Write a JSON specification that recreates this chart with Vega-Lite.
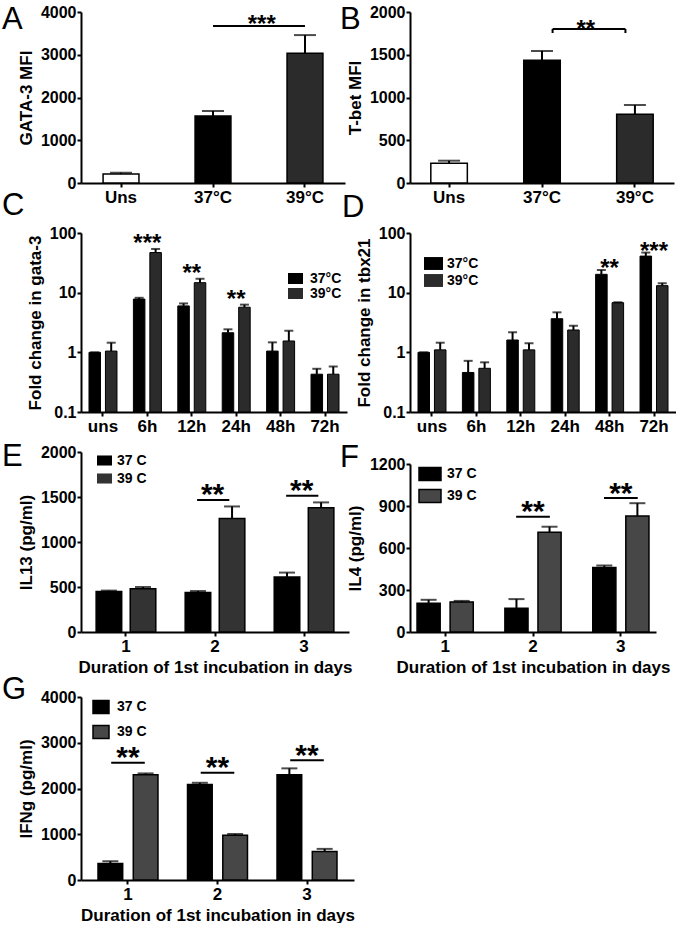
{
"$schema":"https://vega.github.io/schema/vega-lite/v6.json",
"background":"white",
"padding":{"left":2,"top":4,"right":0,"bottom":0},
"config":{
 "font":"Liberation Sans",
 "view":{"stroke":null},
 "axis":{"domainColor":"black","domainWidth":2,"tickColor":"black","tickWidth":2,"tickSize":4,"labelColor":"black","labelFont":"Liberation Sans","labelFontWeight":"bold","labelFontSize":16,"titleColor":"black","titleFont":"Liberation Sans","titleFontWeight":"bold","titleFontSize":17,"grid":false,"labelPadding":1,"titlePadding":5},
 "axisX":{"labelFontSize":17,"labelAngle":0,"labelPadding":2},
 "axisY":{"format":"d"},
 "legend":{"labelFont":"Liberation Sans","labelFontWeight":"bold","labelFontSize":14,"labelColor":"black","padding":0,"title":null},
 "title":{"font":"Liberation Sans","fontSize":31,"fontWeight":"normal","color":"black","anchor":"start","frame":"group","orient":"top","baseline":"alphabetic"}
},
"resolve":{"scale":{"fill":"independent","x":"independent","y":"independent"},"legend":{"fill":"independent"}},
"spacing":-1,
"vconcat":[
{"spacing":7,
 "resolve":{"scale":{"fill":"independent","x":"independent","y":"independent"},"legend":{"fill":"independent"}},
 "vconcat":[
 {"spacing":-15,
  "resolve":{"scale":{"fill":"independent","x":"independent","y":"independent"},"legend":{"fill":"independent"}},
  "vconcat":[
 {"hconcat":[
  {"width":264,"height":171,
   "title":{"text":"A","offset":-32,"dx":-79},
   "data":{"values":[{"g":"Uns","v":210,"e":240},{"g":"37°C","v":1567,"e":1684},{"g":"39°C","v":3034,"e":3460}]},
   "layer":[
    {"mark":{"type":"bar","stroke":"black","strokeWidth":1.5},
     "encoding":{"x":{"field":"g","type":"nominal","sort":null,"scale":{"domain":["Uns","37°C","39°C"],"paddingInner":0.61,"paddingOuter":0.24},"axis":{"title":null}},
      "y":{"field":"v","type":"quantitative","scale":{"domain":[0,4000]},"axis":{"values":[0,1000,2000,3000,4000]},"title":"GATA-3 MFI"},
      "fill":{"field":"g","type":"nominal","scale":{"domain":["Uns","37°C","39°C"],"range":["white","black","#2b2b2b"]},"legend":null}}},
    {"mark":{"type":"rule","strokeWidth":2,"color":"black"},"encoding":{"x":{"field":"g","type":"nominal","title":null},"y":{"field":"v","type":"quantitative","title":"GATA-3 MFI"},"y2":{"field":"e"}}},
    {"mark":{"type":"tick","thickness":2,"size":22,"color":"black"},"encoding":{"x":{"field":"g","type":"nominal","title":null},"y":{"field":"e","type":"quantitative","title":"GATA-3 MFI"}}},
    {"data":{"values":[{"a":"37°C","b":"39°C","y":3672,"s":"***"}]},
     "layer":[
      {"mark":{"type":"rule","strokeWidth":2,"color":"black"},"encoding":{"x":{"field":"a","type":"nominal","title":null},"x2":{"field":"b"},"y":{"field":"y","type":"quantitative","title":"GATA-3 MFI"}}},
      {"mark":{"type":"text","fontSize":24,"fontWeight":"bold","baseline":"alphabetic","dy":6,"color":"black"},"encoding":{"x":{"field":"a","type":"nominal","title":null,"bandPosition":1.86},"y":{"field":"y","type":"quantitative","title":"GATA-3 MFI"},"text":{"field":"s"}}}
     ]}
   ]},
  {"width":264,"height":171,
   "title":{"text":"B","offset":-32,"dx":-70},
   "data":{"values":[{"g":"Uns","v":230,"e":261},{"g":"37°C","v":1435,"e":1544},{"g":"39°C","v":803,"e":912}]},
   "layer":[
    {"mark":{"type":"bar","stroke":"black","strokeWidth":1.5},
     "encoding":{"x":{"field":"g","type":"nominal","sort":null,"scale":{"domain":["Uns","37°C","39°C"],"paddingInner":0.607,"paddingOuter":0.224},"axis":{"title":null}},
      "y":{"field":"v","type":"quantitative","scale":{"domain":[0,2000]},"axis":{"values":[0,500,1000,1500,2000]},"title":"T-bet MFI"},
      "fill":{"field":"g","type":"nominal","scale":{"domain":["Uns","37°C","39°C"],"range":["white","black","#2b2b2b"]},"legend":null}}},
    {"mark":{"type":"rule","strokeWidth":2,"color":"black"},"encoding":{"x":{"field":"g","type":"nominal","title":null},"y":{"field":"v","type":"quantitative","title":"T-bet MFI"},"y2":{"field":"e"}}},
    {"mark":{"type":"tick","thickness":2,"size":22,"color":"black"},"encoding":{"x":{"field":"g","type":"nominal","title":null},"y":{"field":"e","type":"quantitative","title":"T-bet MFI"}}},
    {"data":{"values":[{"a":"37°C","b":"39°C","y":1801,"y2":1754,"s":"**"}]},
     "layer":[
      {"mark":{"type":"rule","strokeWidth":2,"color":"black"},"encoding":{"x":{"field":"a","type":"nominal","title":null,"bandPosition":0.79},"x2":{"field":"b","bandPosition":0.24},"y":{"field":"y","type":"quantitative","title":"T-bet MFI"}}},
      {"mark":{"type":"rule","strokeWidth":2,"color":"black"},"encoding":{"x":{"field":"a","type":"nominal","title":null,"bandPosition":0.79},"y":{"field":"y","type":"quantitative","title":"T-bet MFI"},"y2":{"field":"y2"}}},
      {"mark":{"type":"rule","strokeWidth":2,"color":"black"},"encoding":{"x":{"field":"b","type":"nominal","title":null,"bandPosition":0.24},"y":{"field":"y","type":"quantitative","title":"T-bet MFI"},"y2":{"field":"y2"}}},
      {"mark":{"type":"text","fontSize":24,"fontWeight":"bold","baseline":"alphabetic","dy":8,"color":"black"},"encoding":{"x":{"field":"a","type":"nominal","title":null,"bandPosition":1.7},"y":{"field":"y","type":"quantitative","title":"T-bet MFI"},"text":{"field":"s"}}}
     ]}
   ]}
 ],"spacing":-5,"resolve":{"scale":{"fill":"independent","x":"independent","y":"independent"}}},
 {"hconcat":[
  {"width":266,"height":179,
   "title":{"text":"C","offset":3,"dx":-79},
   "data":{"values":[
    {"t":"uns","temp":"37°C","v":1,"e":1},{"t":"uns","temp":"39°C","v":1.05,"e":1.45},
    {"t":"6h","temp":"37°C","v":7.8,"e":8.2},{"t":"6h","temp":"39°C","v":47,"e":54},
    {"t":"12h","temp":"37°C","v":6.0,"e":6.6},{"t":"12h","temp":"39°C","v":14.7,"e":17.1},
    {"t":"24h","temp":"37°C","v":2.13,"e":2.43},{"t":"24h","temp":"39°C","v":5.7,"e":6.3},
    {"t":"48h","temp":"37°C","v":1.05,"e":1.47},{"t":"48h","temp":"39°C","v":1.55,"e":2.3},
    {"t":"72h","temp":"37°C","v":0.43,"e":0.53},{"t":"72h","temp":"39°C","v":0.43,"e":0.58}]},
   "layer":[
    {"mark":{"type":"bar","stroke":"black","strokeWidth":1},
     "encoding":{"x":{"field":"t","type":"nominal","sort":null,"scale":{"domain":["uns","6h","12h","24h","48h","72h"],"paddingInner":0.37,"paddingOuter":0.18},"axis":{"title":null}},
      "xOffset":{"field":"temp","type":"nominal","scale":{"paddingInner":0.3}},
      "y":{"field":"v","type":"quantitative","scale":{"type":"log","domain":[0.1,100],"nice":false},"axis":{"values":[0.1,1,10,100],"format":"~g"},"title":"Fold change in gata-3"},
      "y2":{"datum":0.1},
      "fill":{"field":"temp","type":"nominal","scale":{"domain":["37°C","39°C"],"range":["black","#2b2b2b"]},"legend":{"orient":"none","legendX":207,"legendY":38,"symbolType":"M-1,-0.73H1V0.73H-1Z","symbolSize":225,"labelOffset":7,"rowPadding":0,"symbolStrokeWidth":0}}}},
    {"mark":{"type":"rule","strokeWidth":2,"color":"black"},"encoding":{"x":{"field":"t","type":"nominal","title":null},"xOffset":{"field":"temp","type":"nominal"},"y":{"field":"v","type":"quantitative","title":"Fold change in gata-3"},"y2":{"field":"e"}}},
    {"mark":{"type":"tick","thickness":2,"size":9,"color":"black"},"encoding":{"x":{"field":"t","type":"nominal","title":null},"xOffset":{"field":"temp","type":"nominal"},"y":{"field":"e","type":"quantitative","title":"Fold change in gata-3"}}},
    {"data":{"values":[{"t":"6h","y":54,"s":"***"},{"t":"12h","y":17.1,"s":"**"},{"t":"24h","y":6.3,"s":"**"}]},
     "mark":{"type":"text","fontSize":24,"fontWeight":"bold","baseline":"alphabetic","dy":2,"color":"black"},
     "encoding":{"x":{"field":"t","type":"nominal","title":null},"y":{"field":"y","type":"quantitative","title":"Fold change in gata-3"},"text":{"field":"s"}}}
   ]},
  {"width":266,"height":179,
   "title":{"text":"D","offset":1,"dx":-68},
   "data":{"values":[
    {"t":"uns","temp":"37°C","v":1,"e":1},{"t":"uns","temp":"39°C","v":1.1,"e":1.45},
    {"t":"6h","temp":"37°C","v":0.46,"e":0.72},{"t":"6h","temp":"39°C","v":0.54,"e":0.68},
    {"t":"12h","temp":"37°C","v":1.61,"e":2.17},{"t":"12h","temp":"39°C","v":1.1,"e":1.42},
    {"t":"24h","temp":"37°C","v":3.66,"e":4.68},{"t":"24h","temp":"39°C","v":2.37,"e":2.79},
    {"t":"48h","temp":"37°C","v":20.3,"e":24},{"t":"48h","temp":"39°C","v":6.8,"e":6.9},
    {"t":"72h","temp":"37°C","v":41,"e":47},{"t":"72h","temp":"39°C","v":13.1,"e":14.4}]},
   "layer":[
    {"mark":{"type":"bar","stroke":"black","strokeWidth":1},
     "encoding":{"x":{"field":"t","type":"nominal","sort":null,"scale":{"domain":["uns","6h","12h","24h","48h","72h"],"paddingInner":0.37,"paddingOuter":0.18},"axis":{"title":null}},
      "xOffset":{"field":"temp","type":"nominal","scale":{"paddingInner":0.3}},
      "y":{"field":"v","type":"quantitative","scale":{"type":"log","domain":[0.1,100],"nice":false},"axis":{"values":[0.1,1,10,100],"format":"~g"},"title":"Fold change in tbx21"},
      "y2":{"datum":0.1},
      "fill":{"field":"temp","type":"nominal","scale":{"domain":["37°C","39°C"],"range":["black","#2b2b2b"]},"legend":{"orient":"none","legendX":14,"legendY":21,"symbolType":"M-1,-0.68H1V0.68H-1Z","symbolSize":361,"labelOffset":4,"rowPadding":0,"symbolStrokeWidth":0}}}},
    {"mark":{"type":"rule","strokeWidth":2,"color":"black"},"encoding":{"x":{"field":"t","type":"nominal","title":null},"xOffset":{"field":"temp","type":"nominal"},"y":{"field":"v","type":"quantitative","title":"Fold change in tbx21"},"y2":{"field":"e"}}},
    {"mark":{"type":"tick","thickness":2,"size":9,"color":"black"},"encoding":{"x":{"field":"t","type":"nominal","title":null},"xOffset":{"field":"temp","type":"nominal"},"y":{"field":"e","type":"quantitative","title":"Fold change in tbx21"}}},
    {"data":{"values":[{"t":"48h","y":24,"s":"**"},{"t":"72h","y":47,"s":"***"}]},
     "mark":{"type":"text","fontSize":24,"fontWeight":"bold","baseline":"alphabetic","dy":6,"color":"black"},
     "encoding":{"x":{"field":"t","type":"nominal","title":null},"y":{"field":"y","type":"quantitative","title":"Fold change in tbx21"},"text":{"field":"s"}}}
   ]}
 ],"spacing":-5,"resolve":{"scale":{"fill":"independent","x":"independent","y":"independent","xOffset":"independent"},"legend":{"fill":"independent"}}}
 ]},
 {"hconcat":[
  {"width":268,"height":180,
   "title":{"text":"E","offset":-29,"dx":-79},
   "data":{"values":[
    {"d":"1","temp":"37 C","v":450,"e":460},{"d":"1","temp":"39 C","v":480,"e":500},
    {"d":"2","temp":"37 C","v":440,"e":455},{"d":"2","temp":"39 C","v":1260,"e":1395},
    {"d":"3","temp":"37 C","v":610,"e":660},{"d":"3","temp":"39 C","v":1380,"e":1440}]},
   "layer":[
    {"mark":{"type":"bar","stroke":"black","strokeWidth":1.5},
     "encoding":{"x":{"field":"d","type":"nominal","sort":null,"scale":{"domain":["1","2","3"],"paddingInner":0.33,"paddingOuter":0.17},"axis":{"title":"Duration of 1st incubation in days"}},
      "xOffset":{"field":"temp","type":"nominal","scale":{"paddingInner":0.25}},
      "y":{"field":"v","type":"quantitative","scale":{"domain":[0,2000]},"axis":{"values":[0,500,1000,1500,2000]},"title":"IL13 (pg/ml)"},
      "fill":{"field":"temp","type":"nominal","scale":{"domain":["37 C","39 C"],"range":["black","#333333"]},"legend":{"orient":"none","legendX":16,"legendY":1,"symbolType":"M-1,-0.67H1V0.67H-1Z","symbolSize":225,"labelOffset":5,"rowPadding":3,"symbolStrokeWidth":0}}}},
    {"mark":{"type":"rule","strokeWidth":2,"color":"black"},"encoding":{"x":{"field":"d","type":"nominal"},"xOffset":{"field":"temp","type":"nominal"},"y":{"field":"v","type":"quantitative","title":"IL13 (pg/ml)"},"y2":{"field":"e"}}},
    {"mark":{"type":"tick","thickness":2,"size":16,"color":"black"},"encoding":{"x":{"field":"d","type":"nominal"},"xOffset":{"field":"temp","type":"nominal"},"y":{"field":"e","type":"quantitative","title":"IL13 (pg/ml)"}}},
    {"data":{"values":[{"d":"2","y":1467,"s":"**"},{"d":"3","y":1515,"s":"**"}]},
     "layer":[
      {"mark":{"type":"rule","strokeWidth":2,"color":"black"},"encoding":{"x":{"field":"d","type":"nominal","bandPosition":0.2},"x2":{"field":"d","bandPosition":0.74},"y":{"field":"y","type":"quantitative","title":"IL13 (pg/ml)"}}},
      {"mark":{"type":"text","fontSize":30,"fontWeight":"bold","baseline":"alphabetic","dy":4,"color":"black"},"encoding":{"x":{"field":"d","type":"nominal","bandPosition":0.46},"y":{"field":"y","type":"quantitative","title":"IL13 (pg/ml)"},"text":{"field":"s"}}}
     ]}
   ]},
  {"width":246,"height":180,
   "title":{"text":"F","offset":-22,"dx":-70},
   "data":{"values":[
    {"d":"1","temp":"37 C","v":205,"e":230},{"d":"1","temp":"39 C","v":215,"e":222},
    {"d":"2","temp":"37 C","v":170,"e":235},{"d":"2","temp":"39 C","v":712,"e":752},
    {"d":"3","temp":"37 C","v":460,"e":475},{"d":"3","temp":"39 C","v":828,"e":920}]},
   "layer":[
    {"mark":{"type":"bar","stroke":"black","strokeWidth":1.5},
     "encoding":{"x":{"field":"d","type":"nominal","sort":null,"scale":{"domain":["1","2","3"],"paddingInner":0.36,"paddingOuter":0.08},"axis":{"title":"Duration of 1st incubation in days"}},
      "xOffset":{"field":"temp","type":"nominal","scale":{"paddingInner":0.3}},
      "y":{"field":"v","type":"quantitative","scale":{"domain":[0,1200],"range":[180,12]},"axis":{"values":[0,300,600,900,1200]},"title":"IL4 (pg/ml)"},
      "fill":{"field":"temp","type":"nominal","scale":{"domain":["37 C","39 C"],"range":["black","#474747"]},"legend":{"orient":"none","legendX":8,"legendY":10,"symbolType":"M-1,-0.6H1V0.6H-1Z","symbolSize":484,"labelOffset":5,"rowPadding":-2,"symbolStrokeColor":"black","symbolStrokeWidth":1.5}}}},
    {"mark":{"type":"rule","strokeWidth":2,"color":"black"},"encoding":{"x":{"field":"d","type":"nominal"},"xOffset":{"field":"temp","type":"nominal"},"y":{"field":"v","type":"quantitative","title":"IL4 (pg/ml)"},"y2":{"field":"e"}}},
    {"mark":{"type":"tick","thickness":2,"size":16,"color":"black"},"encoding":{"x":{"field":"d","type":"nominal"},"xOffset":{"field":"temp","type":"nominal"},"y":{"field":"e","type":"quantitative","title":"IL4 (pg/ml)"}}},
    {"data":{"values":[{"d":"2","y":824,"s":"**"},{"d":"3","y":957,"s":"**"}]},
     "layer":[
      {"mark":{"type":"rule","strokeWidth":2,"color":"black"},"encoding":{"x":{"field":"d","type":"nominal","bandPosition":0.2},"x2":{"field":"d","bandPosition":0.8},"y":{"field":"y","type":"quantitative","title":"IL4 (pg/ml)"}}},
      {"mark":{"type":"text","fontSize":30,"fontWeight":"bold","baseline":"alphabetic","dy":4.5,"color":"black"},"encoding":{"x":{"field":"d","type":"nominal","bandPosition":0.5},"y":{"field":"y","type":"quantitative","title":"IL4 (pg/ml)"},"text":{"field":"s"}}}
     ]}
   ]}
 ],"spacing":-12,"resolve":{"scale":{"fill":"independent","x":"independent","y":"independent","xOffset":"independent"},"legend":{"fill":"independent"}}}
 ]},
 {"width":273,"height":183,
  "title":{"text":"G","offset":-17,"dx":-79},
  "data":{"values":[
    {"d":"1","temp":"37 C","v":360,"e":410},{"d":"1","temp":"39 C","v":2300,"e":2330},
    {"d":"2","temp":"37 C","v":2090,"e":2125},{"d":"2","temp":"39 C","v":980,"e":1005},
    {"d":"3","temp":"37 C","v":2300,"e":2440},{"d":"3","temp":"39 C","v":625,"e":680}]},
  "layer":[
    {"mark":{"type":"bar","stroke":"black","strokeWidth":1.5},
     "encoding":{"x":{"field":"d","type":"nominal","sort":null,"scale":{"domain":["1","2","3"],"paddingInner":0.33,"paddingOuter":0.19},"axis":{"title":"Duration of 1st incubation in days"}},
      "xOffset":{"field":"temp","type":"nominal","scale":{"paddingInner":0.3}},
      "y":{"field":"v","type":"quantitative","scale":{"domain":[0,4000]},"axis":{"values":[0,1000,2000,3000,4000]},"title":"IFNg (pg/ml)"},
      "fill":{"field":"temp","type":"nominal","scale":{"domain":["37 C","39 C"],"range":["black","#474747"]},"legend":{"orient":"none","legendX":11,"legendY":1,"symbolType":"M-1,-0.8H1V0.8H-1Z","symbolSize":256,"labelOffset":7,"rowPadding":5,"symbolStrokeColor":"black","symbolStrokeWidth":1.5}}}},
    {"mark":{"type":"rule","strokeWidth":2,"color":"black"},"encoding":{"x":{"field":"d","type":"nominal"},"xOffset":{"field":"temp","type":"nominal"},"y":{"field":"v","type":"quantitative","title":"IFNg (pg/ml)"},"y2":{"field":"e"}}},
    {"mark":{"type":"tick","thickness":2,"size":16,"color":"black"},"encoding":{"x":{"field":"d","type":"nominal"},"xOffset":{"field":"temp","type":"nominal"},"y":{"field":"e","type":"quantitative","title":"IFNg (pg/ml)"}}},
    {"data":{"values":[{"d":"1","y":2564,"s":"**"},{"d":"2","y":2345,"s":"**"},{"d":"3","y":2616,"s":"**"}]},
     "layer":[
      {"mark":{"type":"rule","strokeWidth":2,"color":"black"},"encoding":{"x":{"field":"d","type":"nominal","bandPosition":0.22},"x2":{"field":"d","bandPosition":0.78},"y":{"field":"y","type":"quantitative","title":"IFNg (pg/ml)"}}},
      {"mark":{"type":"text","fontSize":30,"fontWeight":"bold","baseline":"alphabetic","dy":4.5,"color":"black"},"encoding":{"x":{"field":"d","type":"nominal","bandPosition":0.5},"y":{"field":"y","type":"quantitative","title":"IFNg (pg/ml)"},"text":{"field":"s"}}}
     ]}
  ]}
]
}
